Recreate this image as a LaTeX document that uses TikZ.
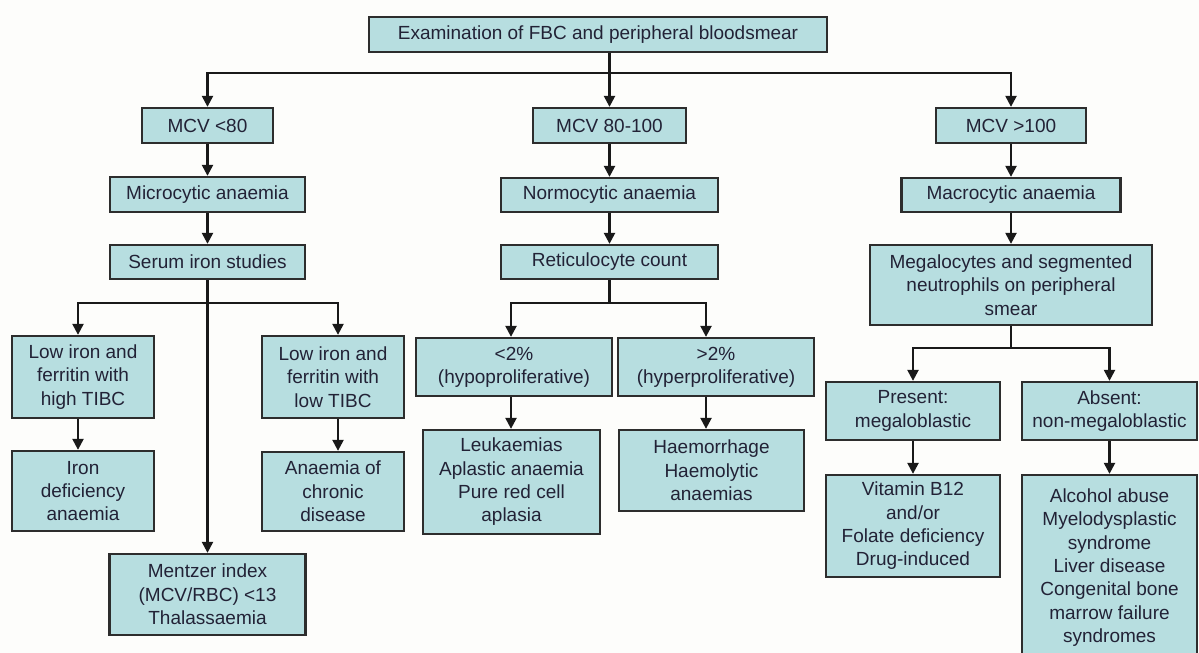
\documentclass[tikz,border=0pt]{standalone}
\usepackage{fontspec}
\setmainfont{Liberation Sans}
\usetikzlibrary{arrows.meta,calc}

\definecolor{boxfill}{RGB}{183,222,224}
\definecolor{boxline}{RGB}{45,45,45}
\definecolor{wire}{RGB}{25,25,25}
\definecolor{txt}{RGB}{34,34,54}
\definecolor{paper}{RGB}{253,253,251}

\newcommand{\boxfont}{\fontsize{19}{23.3}\selectfont}

\tikzset{
  box/.style={draw=boxline, fill=boxfill, line width=2.3pt, inner sep=0pt,
              align=center, font=\boxfont, text=txt},
  sz/.style 2 args={minimum width=#1pt, minimum height=#2pt},
  conn/.style={draw=wire, line width=2.3pt},
  arr/.style={conn, -{Triangle[width=11pt,length=11pt]}},
}

\begin{document}
\begin{tikzpicture}[x=1pt,y=-1pt]
  % page frame
  \fill[paper] (0,0) rectangle (1199,653);
  \useasboundingbox (0,0) rectangle (1199,653);

  % root
  \node[box, sz={458}{35}] (top) at (598,34.5) {Examination of FBC and peripheral bloodsmear};

  % microcytic branch
  \node[box, sz={131}{35}] (mcv1)   at (207.5,125.5) {MCV <80};
  \node[box, sz={195}{35}] (micro)  at (207.5,194.5) {Microcytic anaemia};
  \node[box, sz={195}{34}] (serum)  at (207.5,262)   {Serum iron studies};
  \node[box, sz={142}{82}] (lowhigh) at (83,377)  {Low iron and\\ferritin with\\high TIBC};
  \node[box, sz={142}{80}] (irondef) at (83,491)  {Iron\\deficiency\\anaemia};
  \node[box, sz={142}{82}] (lowlow)  at (333,377) {Low iron and\\ferritin with\\low TIBC};
  \node[box, sz={142}{79}] (chronic) at (333,491.5) {Anaemia of\\chronic\\disease};
  \node[box, sz={196}{81}] (mentzer) at (207.5,594.5) {Mentzer index\\(MCV/RBC) <13\\Thalassaemia};

  % normocytic branch
  \node[box, sz={153}{35}] (mcv2)  at (609.5,125.5) {MCV 80-100};
  \node[box, sz={217}{34}] (normo) at (609.5,195)   {Normocytic anaemia};
  \node[box, sz={217}{34}] (retic) at (609.5,262)   {Reticulocyte count};
  \node[box, sz={196}{58}] (lt2)   at (514,367)   {<2\%\\(hypoproliferative)};
  \node[box, sz={196}{58}] (gt2)   at (716,367)   {>2\%\\(hyperproliferative)};
  \node[box, sz={177}{104}] (leuk) at (511.5,482) {Leukaemias\\Aplastic anaemia\\Pure red cell\\aplasia};
  \node[box, sz={185}{81}] (haem)  at (711.5,470.5) {Haemorrhage\\Haemolytic\\anaemias};

  % macrocytic branch
  \node[box, sz={150}{35}] (mcv3)  at (1011,125.5) {MCV >100};
  \node[box, sz={219}{34}] (macro) at (1011,195)   {Macrocytic anaemia};
  \node[box, sz={282}{80}] (mega)  at (1011,285)   {Megalocytes and segmented\\neutrophils on peripheral\\smear};
  \node[box, sz={174}{58}] (present) at (913,411)    {Present:\\megaloblastic};
  \node[box, sz={175}{58}] (absent)  at (1109.5,411) {Absent:\\non-megaloblastic};
  \node[box, sz={174}{102}] (vitamin) at (913,526)   {Vitamin B12\\and/or\\Folate deficiency\\Drug-induced};
  \node[box, sz={175}{185}] (alcohol) at (1109.5,567.5) {Alcohol abuse\\Myelodysplastic\\syndrome\\Liver disease\\Congenital bone\\marrow failure\\syndromes};

  % junction points of the branching connectors
  \coordinate (hub) at (609.5,73);
  \coordinate (j1)  at (207.5,303);
  \coordinate (j2)  at (609.5,303);
  \coordinate (j3)  at (1011,348);

  % root to the three MCV ranges
  \draw[arr] (top.south -| mcv2.north) -- (mcv2.north);
  \draw[arr] (hub) -| (mcv1.north);
  \draw[arr] (hub) -| (mcv3.north);

  % microcytic chain
  \draw[arr] (mcv1.south) -- (micro.north);
  \draw[arr] (micro.south) -- (serum.north);
  \draw[arr] (serum.south) -- (mentzer.north);
  \draw[arr] (j1) -| ([xshift=-5pt]lowhigh.north);
  \draw[arr] (j1) -| ([xshift=5pt]lowlow.north);
  \draw[arr] ([xshift=-5pt]lowhigh.south) -- ([xshift=-5pt]lowhigh.south |- irondef.north);
  \draw[arr] ([xshift=5pt]lowlow.south) -- ([xshift=5pt]lowlow.south |- chronic.north);

  % normocytic chain
  \draw[arr] (mcv2.south) -- (normo.north);
  \draw[arr] (normo.south) -- (retic.north);
  \draw[conn] (retic.south) -- (j2);
  \draw[arr] (j2) -| ([xshift=-3pt]lt2.north);
  \draw[arr] (j2) -| ([xshift=-10pt]gt2.north);
  \draw[arr] ([xshift=-3pt]lt2.south) -- ([xshift=-3pt]lt2.south |- leuk.north);
  \draw[arr] ([xshift=-10pt]gt2.south) -- ([xshift=-10pt]gt2.south |- haem.north);

  % macrocytic chain
  \draw[arr] (mcv3.south) -- (macro.north);
  \draw[arr] (macro.south) -- (mega.north);
  \draw[conn] (mega.south) -- (j3);
  \draw[arr] (j3) -| (present.north);
  \draw[arr] (j3) -| (absent.north);
  \draw[arr] (present.south) -- (vitamin.north);
  \draw[arr] (absent.south) -- (absent.south |- alcohol.north);
\end{tikzpicture}
\end{document}
